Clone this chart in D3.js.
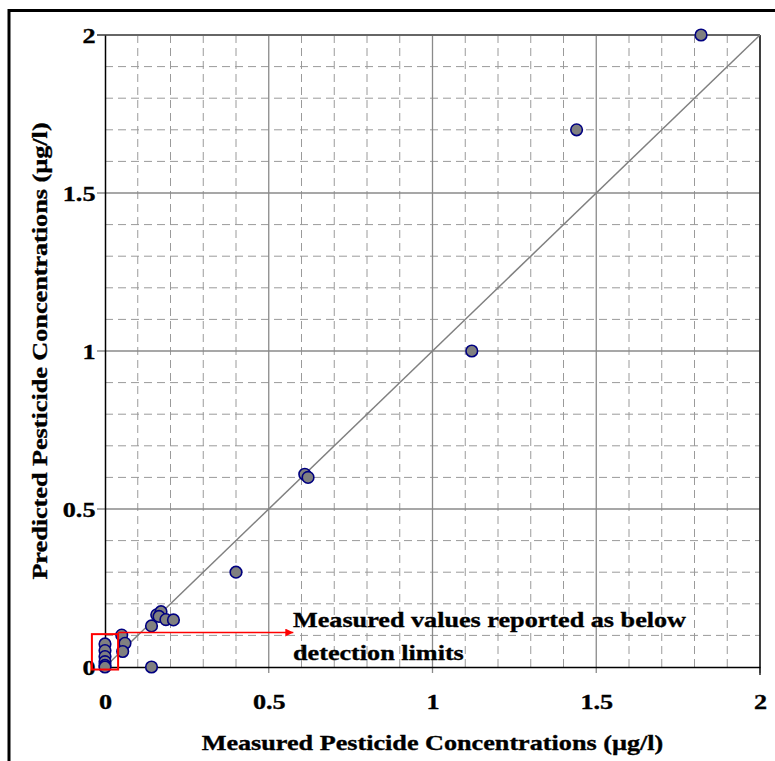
<!DOCTYPE html>
<html><head><meta charset="utf-8">
<script src="https://cdn.jsdelivr.net/npm/d3@7"></script>
<style>
html,body{margin:0;padding:0;background:#fff;}
svg text{font-family:"Liberation Serif","Times New Roman",serif;font-weight:bold;fill:#000;stroke:#000;stroke-width:0.35px;}
</style></head>
<body>
<svg id="chart" width="775" height="761"></svg>
<script>
const measured  = [1.82, 1.44, 1.12, 0.61, 0.62, 0.40, 0.142, 0.142, 0.158, 0.171, 0.165, 0.186, 0.209, 0.051, 0.061, 0.054, 0, 0, 0, 0, 0, 0];
const predicted = [2.00, 1.70, 1.00, 0.61, 0.60, 0.30, 0.000, 0.130, 0.165, 0.175, 0.160, 0.150, 0.149, 0.101, 0.075, 0.049, 0.073, 0.052, 0.033, 0.017, 0.005, 0];
const majorTicks = [0, 0.5, 1, 1.5, 2];
const tickLabels = ["0", "0.5", "1", "1.5", "2"];
const minorTicks = [0.1,0.2,0.3,0.4,0.6,0.7,0.8,0.9,1.1,1.2,1.3,1.4,1.6,1.7,1.8,1.9];
const xTitle = "Measured Pesticide Concentrations (µg/l)";
const yTitle = "Predicted Pesticide Concentrations (µg/l)";
const noteLines = ["Measured values reported as below", "detection limits"];
const boxX = [-0.04, 0.04], boxY = [-0.008, 0.104];
const arrowX = [0.04, 0.575], arrowY = 0.109;

const SX = 1.19; // horizontal stretch of the original text rendering
const FONT = '"Liberation Serif","Times New Roman",serif';

const svg = d3.select("#chart");
const x = d3.scaleLinear().domain([0, 2]).range([105, 760]);
const y = d3.scaleLinear().domain([0, 2]).range([667, 35]);

// outer frame
svg.append("rect").attr("x", 9).attr("y", 10.5).attr("width", 800).attr("height", 800)
  .attr("fill", "none").attr("stroke", "#000").attr("stroke-width", 3);

// minor dashed grid
const g = svg.append("g");
g.selectAll(".vminor").data(minorTicks).join("line")
  .attr("x1", d => x(d)).attr("x2", d => x(d)).attr("y1", y(0)).attr("y2", y(2))
  .attr("stroke", "#9a9a9a").attr("stroke-width", 1).attr("stroke-dasharray", "8,5");
g.selectAll(".hminor").data(minorTicks).join("line")
  .attr("y1", d => y(d)).attr("y2", d => y(d)).attr("x1", x(0)).attr("x2", x(2))
  .attr("stroke", "#9a9a9a").attr("stroke-width", 1).attr("stroke-dasharray", "8,5");
// major solid grid (extending as ticks)
g.selectAll(".vmajor").data(majorTicks.slice(1)).join("line")
  .attr("x1", d => x(d)).attr("x2", d => x(d)).attr("y1", y(2)).attr("y2", y(0) + 6)
  .attr("stroke", "#8a8a8a").attr("stroke-width", 1.3);
g.selectAll(".hmajor").data(majorTicks.slice(1)).join("line")
  .attr("y1", d => y(d)).attr("y2", d => y(d)).attr("x1", x(0) - 8).attr("x2", x(2))
  .attr("stroke", "#8a8a8a").attr("stroke-width", 1.3);
// top border darker
svg.append("line").attr("x1", x(0) - 8).attr("x2", x(2)).attr("y1", y(2)).attr("y2", y(2))
  .attr("stroke", "#666").attr("stroke-width", 2);
// right border
svg.append("line").attr("x1", x(2)).attr("x2", x(2)).attr("y1", y(2)).attr("y2", y(0) + 8)
  .attr("stroke", "#000").attr("stroke-width", 1.3);

// 1:1 line
svg.append("line").attr("x1", x(0)).attr("y1", y(0)).attr("x2", x(2)).attr("y2", y(2))
  .attr("stroke", "#808080").attr("stroke-width", 1.5);

// axes
const xAxis = d3.axisBottom(x).tickValues(majorTicks).tickSize(0).tickPadding(26)
  .tickFormat((d, i) => tickLabels[i]);
const xg = svg.append("g").attr("transform", `translate(0,${y(0)})`).call(xAxis);
xg.select(".domain").attr("stroke", "#000").attr("stroke-width", 1.5);
xg.selectAll("text").style("font-size", "22px").style("font-family", FONT).style("font-weight", "bold")
  .attr("transform", `scale(${SX},1)`);

const yAxis = d3.axisLeft(y).tickValues(majorTicks).tickSize(0).tickPadding(8)
  .tickFormat((d, i) => tickLabels[i]);
const yg = svg.append("g").attr("transform", `translate(${x(0)},0)`).call(yAxis);
yg.select(".domain").attr("stroke", "#000").attr("stroke-width", 1.5);
yg.selectAll("text").style("font-size", "22px").style("font-family", FONT).style("font-weight", "bold")
  .attr("transform", `scale(${SX},1)`);

// points
svg.append("g").selectAll("circle").data(measured.map((m, i) => [m, predicted[i]])).join("circle")
  .attr("cx", d => x(d[0])).attr("cy", d => y(d[1])).attr("r", 5.8)
  .attr("fill", "#808080").attr("stroke", "#000080").attr("stroke-width", 1.6);

// red box & arrow
svg.append("rect").attr("x", x(boxX[0])).attr("y", y(boxY[1]))
  .attr("width", x(boxX[1]) - x(boxX[0])).attr("height", y(boxY[0]) - y(boxY[1]))
  .attr("fill", "none").attr("stroke", "#ff0000").attr("stroke-width", 2);
svg.append("defs").append("marker").attr("id", "ah").attr("viewBox", "0 0 10 10")
  .attr("refX", 10).attr("refY", 5).attr("markerWidth", 9).attr("markerHeight", 8)
  .attr("markerUnits", "userSpaceOnUse").attr("orient", "auto")
  .append("path").attr("d", "M0,0 L10,5 L0,10 Z").attr("fill", "#ff0000");
svg.append("line").attr("x1", x(arrowX[0])).attr("x2", x(arrowX[1]))
  .attr("y1", y(arrowY)).attr("y2", y(arrowY))
  .attr("stroke", "#ff0000").attr("stroke-width", 1.5).attr("marker-end", "url(#ah)");

// note text
svg.append("text").attr("transform", `translate(293,627) scale(${SX},1)`).style("font-size", "22px").text(noteLines[0]);
svg.append("text").attr("transform", `translate(293,660) scale(${SX},1)`).style("font-size", "22px").text(noteLines[1]);

// axis titles
svg.append("text").attr("transform", `translate(${(x(0) + x(2)) / 2},750) scale(${SX},1)`)
  .attr("text-anchor", "middle").style("font-size", "22px").text(xTitle);
svg.append("text").attr("transform", `translate(47,${(y(0) + y(2)) / 2}) rotate(-90) scale(${SX},1)`)
  .attr("text-anchor", "middle").style("font-size", "22px").text(yTitle);
</script>
</body></html>
